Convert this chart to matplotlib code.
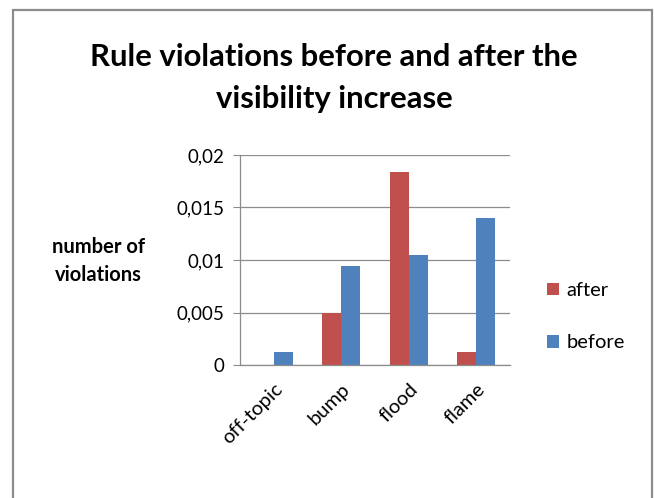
import numpy as np
import matplotlib
matplotlib.use('Agg')
from matplotlib import pyplot as plt
from matplotlib.patches import Rectangle

categories = ['off-topic', 'bump', 'flood', 'flame']
after = [0.0, 0.0050, 0.0184, 0.0012]
before = [0.0012, 0.0094, 0.0105, 0.0140]
yticks = [0, 0.005, 0.01, 0.015, 0.02]
ytick_labels = ['0', '0,005', '0,01', '0,015', '0,02']

red = '#C0504D'
blue = '#4F81BD'

plt.rcParams['font.family'] = ['Lato', 'DejaVu Sans']

fig = plt.figure(figsize=(6.54, 4.98), dpi=100)
W, H = 654, 498

# chart frame
fig.patches.append(Rectangle((13 / W, -0.01), (652 - 13) / W, (498 - 10) / H + 0.01,
                             transform=fig.transFigure, fill=False,
                             edgecolor='#8c8c8c', linewidth=1.6))

ax = fig.add_axes([240 / W, 1 - 365 / H, 270 / W, 210 / H])

x = np.arange(len(categories))
w = 0.28
ax.bar(x - w / 2, after, w, color=red, label='after')
ax.bar(x + w / 2, before, w, color=blue, label='before')

ax.set_xlim(-0.5, len(categories) - 0.5)
ax.set_ylim(0, 0.02)
ax.set_yticks(yticks)
ax.set_yticklabels(ytick_labels)
ax.set_xticks(x)
ax.set_xticklabels(categories, rotation=45, ha='right', rotation_mode='anchor')
ax.tick_params(axis='x', length=0, pad=11, labelsize=14.5)
ax.tick_params(axis='y', length=5, color='#8c8c8c', pad=6, labelsize=13.5)
ax.yaxis.grid(True, color='#8c8c8c', linewidth=0.9)
ax.set_axisbelow(True)
for s in ['top', 'right']:
    ax.spines[s].set_visible(False)
for s in ['left', 'bottom']:
    ax.spines[s].set_color('#8c8c8c')
    ax.spines[s].set_linewidth(0.9)

fig.text(98 / W, 1 - 261 / H, 'number of\nviolations', ha='center', va='center',
         fontsize=14.5, fontweight='bold', linespacing=1.45)

fig.text(334 / W, 1 - 78 / H, 'Rule violations before and after the\nvisibility increase',
         ha='center', va='center', fontsize=22.3, fontweight='bold', linespacing=1.6)

ax.legend(loc='center left', bbox_to_anchor=(1.07, 0.23),
          bbox_transform=ax.transAxes, frameon=False, fontsize=14.5,
          handlelength=0.6, handleheight=0.6, labelspacing=1.75, handletextpad=0.35)

fig.savefig('out.png', dpi=100)
